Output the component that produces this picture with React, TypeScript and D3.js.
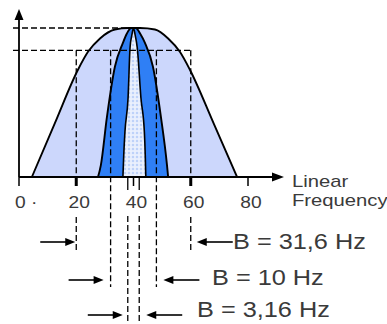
import React from 'react';
import * as d3 from 'd3';

// x axis
const tickValues = [0, 20, 40, 60, 80];
const tickLabels = ['0 ·', '20', '40', '60', '80'];
const boldTicks = [20, 60];

// filter responses: frequency (Hz) vs relative level
const wideFreq = [4.5, 12.5, 20.6, 24.1, 28.3, 33.5, 38.1, 42.3, 47.5, 52.1, 56.2, 59.7, 68, 76.2];
const wideLevel = [0, 0.36, 0.72, 0.84, 0.93, 0.99, 1, 1, 0.99, 0.93, 0.84, 0.72, 0.36, 0];

const midFreq = [27.6, 28.6, 30.7, 33.5, 36.3, 37.6, 39.2, 40, 40.8, 42.4, 44, 46.8, 49.6, 51.7, 52.1];
const midLevel = [0, 0.08, 0.4, 0.74, 0.9, 0.96, 1, 1, 1, 0.96, 0.9, 0.74, 0.4, 0.08, 0];

const narrowFreq = [36.3, 36.6, 37, 38.1, 38.8, 39.4, 40, 40.6, 41.3, 42.6, 43.8, 44.1, 44.3];
const narrowLevel = [0, 0.15, 0.3, 0.53, 0.87, 0.95, 1, 0.95, 0.87, 0.53, 0.3, 0.15, 0];

// reference levels (dashed)
const refLevels = [1, 0.85];
const refEnds = [38, 60];

// bandwidths
const bandLabels = ['B = 31,6 Hz', 'B = 10 Hz', 'B = 3,16 Hz'];
const bandLow = [20, 32, 38];
const bandHigh = [60, 48, 42];

const W = 387;
const H = 324;
const font = '"Liberation Sans", Arial, sans-serif';
const ink = '#3a3a3a';

export default function App() {
  const x = d3.scaleLinear().domain([0, 80]).range([19, 248]);
  const y = d3.scaleLinear().domain([0, 1]).range([177, 28]);
  const y0 = y(0);

  const shape = (fs: number[], ls: number[]) =>
    d3.line<number>()
      .x((_, i) => x(fs[i]))
      .y((_, i) => y(ls[i]))
      .curve(d3.curveMonotoneX)(fs) + 'Z';

  const rowY = [242, 280, 315];
  const textX = [233, 212, 197];
  const textY = [249, 285, 317];
  const gapL = [1, 7, 5];
  const gapR = [6, 7, 7];
  const lineEnd = [253, 287, H];
  const dash = '6 3';

  const arrowRight = (tip: number, yy: number) => (
    <g>
      <line x1={tip - 35} x2={tip - 8} y1={yy} y2={yy} stroke="#000" strokeWidth={1.6} />
      <path d={`M${tip},${yy} L${tip - 10},${yy - 4} L${tip - 10},${yy + 4} Z`} fill="#000" />
    </g>
  );
  const arrowLeft = (tip: number, yy: number) => (
    <g>
      <line x1={tip + 8} x2={tip + 36} y1={yy} y2={yy} stroke="#000" strokeWidth={1.6} />
      <path d={`M${tip},${yy} L${tip + 10},${yy - 4} L${tip + 10},${yy + 4} Z`} fill="#000" />
    </g>
  );

  return (
    <svg width={W} height={H} style={{ position: 'absolute', left: 0, top: 0, background: '#fff' }}>
      <defs>
        <pattern id="dots" width={4} height={4} patternUnits="userSpaceOnUse">
          <rect width={4} height={4} fill="#e4ecfd" />
          <circle cx={1} cy={1} r={0.8} fill="#8db2f6" />
          <circle cx={3} cy={3} r={0.6} fill="#ffffff" />
        </pattern>
      </defs>

      {/* filters */}
      <path d={shape(wideFreq, wideLevel)} fill="#ccd7fc" stroke="#000" strokeWidth={1.9} />
      <path d={shape(midFreq, midLevel)} fill="#2f7ff5" stroke="#000" strokeWidth={1.9} />
      <path d={shape(narrowFreq, narrowLevel)} fill="url(#dots)" stroke="#000" strokeWidth={1.6} />

      {/* reference levels */}
      {refLevels.map((l, i) => (
        <line key={'h' + i} x1={13} x2={x(refEnds[i])} y1={y(l)} y2={y(l)}
          stroke="#000" strokeWidth={1.4} strokeDasharray={dash} />
      ))}

      {/* band edges */}
      {bandLow.map((lo, i) => {
        const hi = bandHigh[i];
        return [lo, hi].map((f, j) => {
          const xx = x(f);
          if (i === 0) {
            return (
              <g key={`e${i}${j}`}>
                <line x1={xx} x2={xx} y1={y(0.85)} y2={y0} stroke="#000" strokeWidth={1.3} strokeDasharray={dash} />
                <line x1={xx} x2={xx} y1={217} y2={lineEnd[i]} stroke="#000" strokeWidth={1.3} strokeDasharray={dash} />
              </g>
            );
          }
          if (i === 2) {
            return (
              <g key={`e${i}${j}`}>
                <line x1={xx} x2={xx} y1={y0} y2={190} stroke="#000" strokeWidth={1.3} />
                <line x1={xx} x2={xx} y1={216} y2={lineEnd[i]} stroke="#000" strokeWidth={1.3} strokeDasharray={dash} />
              </g>
            );
          }
          return (
            <line key={`e${i}${j}`} x1={xx} x2={xx} y1={y(0.85)} y2={lineEnd[i]}
              stroke="#000" strokeWidth={1.3} strokeDasharray={dash} />
          );
        });
      })}

      {/* axes */}
      <line x1={19} x2={19} y1={y0} y2={18} stroke="#000" strokeWidth={1.8} />
      <path d={`M19,9 L14.5,20 L23.5,20 Z`} fill="#000" />
      <line x1={19} x2={274} y1={y0} y2={y0} stroke="#000" strokeWidth={1.8} />
      <path d={`M284,${y0} L272,${y0 - 4.5} L272,${y0 + 4.5} Z`} fill="#000" />

      {tickValues.map((v, i) => (
        <g key={'t' + v}>
          <line x1={x(v)} x2={x(v)} y1={y0} y2={y0 + 9} stroke="#000"
            strokeWidth={boldTicks.includes(v) ? 3 : 1.5} />
          <text
            transform={`translate(${i === 0 ? x(v) - 4 : x(v) + 3},208) scale(1.2,1)`}
            textAnchor={i === 0 ? 'start' : 'middle'}
            fontFamily={font} fontSize={16} fill={ink}>
            {tickLabels[i]}
          </text>
        </g>
      ))}

      <text transform="translate(292,187) scale(1.19,1)" fontFamily={font} fontSize={17} fill={ink}>Linear</text>
      <text transform="translate(292,206) scale(1.19,1)" fontFamily={font} fontSize={17} fill={ink}>Frequency</text>

      {/* bandwidth arrows */}
      {bandLabels.map((lab, i) => (
        <g key={'b' + i}>
          {arrowRight(x(bandLow[i]) - gapL[i], rowY[i])}
          {arrowLeft(x(bandHigh[i]) + gapR[i], rowY[i])}
          <text transform={`translate(${textX[i]},${textY[i]}) scale(1.15,1)`}
            fontFamily={font} fontSize={22} fill={ink}>
            {lab}
          </text>
        </g>
      ))}
    </svg>
  );
}
